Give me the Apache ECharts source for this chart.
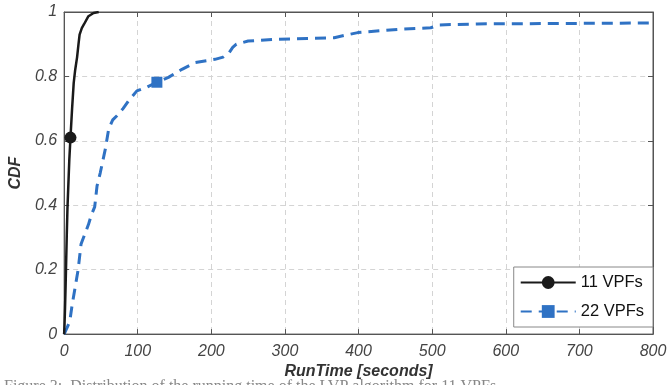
<!DOCTYPE html>
<html>
<head>
<meta charset="utf-8">
<script src="https://cdn.jsdelivr.net/npm/echarts@6/dist/echarts.min.js"></script>
<style>html,body{margin:0;padding:0;background:#fff;}#c{width:672px;height:385px;}</style>
</head>
<body>
<div id="c"></div>
<script>
// Data
const xTicks = [0, 100, 200, 300, 400, 500, 600, 700, 800];
const yTicks = [0, 0.2, 0.4, 0.6, 0.8, 1];
const vpf11X = [0, 0.5, 1.2, 2, 2.8, 3.6, 4.5, 5.5, 7, 8.6, 10.8, 13, 15, 17.6, 19.5, 21, 24, 27, 33, 40, 47];
const vpf11Y = [0, 0.03, 0.08, 0.15, 0.23, 0.31, 0.39, 0.45, 0.54, 0.61, 0.70, 0.78, 0.82, 0.86, 0.90, 0.93, 0.95, 0.962, 0.987, 0.997, 1];
const vpf11Mark = 9;
const vpf22X = [0, 4, 7.7, 10.8, 15.3, 19, 23, 28, 33, 37, 41.5, 44.7, 49, 56, 60.5, 66, 71.7, 80, 87.5, 98.8, 112, 126, 141.7, 160, 177.8, 191, 204.8, 216, 224, 229, 234, 250, 286, 330, 367, 380, 399, 453, 498, 510, 561, 650, 800];
const vpf22Y = [0, 0.02, 0.04, 0.09, 0.15, 0.20, 0.28, 0.31, 0.34, 0.37, 0.395, 0.46, 0.50, 0.575, 0.637, 0.665, 0.678, 0.70, 0.724, 0.755, 0.766, 0.782, 0.797, 0.822, 0.843, 0.848, 0.853, 0.86, 0.873, 0.89, 0.900, 0.910, 0.915, 0.918, 0.92, 0.927, 0.936, 0.946, 0.951, 0.96, 0.963, 0.964, 0.966];
const vpf22Mark = 21;
const seriesNames = ['11 VPFs', '22 VPFs'];
const xName = 'RunTime [seconds]';
const yName = 'CDF';
const caption = 'Figure 3:  Distribution of the running time of the LVP algorithm for 11 VPFs';

function build(xs, ys, mark, sym, size) {
  return xs.map((x, i) => ({ value: [x, ys[i]], symbol: i === mark ? sym : 'none', symbolSize: size }));
}

const chart = echarts.init(document.getElementById('c'), null, { renderer: 'canvas' });
const labelStyle = { color: '#444', fontSize: 16, fontStyle: 'italic', fontFamily: 'Liberation Sans, Arial, sans-serif' };
const nameStyle = { color: '#333', fontSize: 16, fontStyle: 'italic', fontWeight: 'bold', fontFamily: 'Liberation Sans, Arial, sans-serif' };
const axisLine = { show: true, onZero: false, lineStyle: { color: '#555', width: 1 } };
const tick = { show: true, inside: true, length: 5, lineStyle: { color: '#555' } };
const split = { show: true, lineStyle: { color: '#d4d4d4', type: [5, 4], width: 1 } };
chart.setOption({
  animation: false,
  backgroundColor: '#fff',
  grid: { left: 62, right: 19, top: 12, bottom: 49, containLabel: false, show: true, borderColor: '#555', borderWidth: 1 },
  xAxis: [{
    type: 'value', min: 0, max: 800, interval: 100,
    name: xName, nameLocation: 'middle', nameGap: 20, nameTextStyle: nameStyle,
    axisLine: axisLine, axisTick: tick,
    axisLabel: Object.assign({ margin: 9, formatter: v => xTicks.includes(v) ? String(v) : '' }, labelStyle),
    splitLine: split
  }, {
    type: 'value', min: 0, max: 800, interval: 100, position: 'top',
    axisLine: axisLine, axisTick: tick,
    axisLabel: { show: false }, splitLine: { show: false }
  }],
  yAxis: [{
    type: 'value', min: 0, max: 1, interval: 0.2,
    name: yName, nameLocation: 'middle', nameGap: 37, nameTextStyle: nameStyle,
    axisLine: axisLine, axisTick: tick,
    axisLabel: Object.assign({ margin: 7, formatter: v => { const t = yTicks.find(k => Math.abs(k - v) < 1e-9); return t === undefined ? '' : String(t); } }, labelStyle),
    splitLine: split
  }, {
    type: 'value', min: 0, max: 1, interval: 0.2, position: 'right',
    axisLine: axisLine, axisTick: tick,
    axisLabel: { show: false }, splitLine: { show: false }
  }],
  legend: {
    orient: 'vertical', right: 19, bottom: 58,
    data: seriesNames,
    itemWidth: 55, itemHeight: 16, itemGap: 12,
    padding: [7, 9, 7, 6],
    backgroundColor: '#fff', borderColor: '#888', borderWidth: 1, borderRadius: 0,
    textStyle: { color: '#111', fontSize: 16.5, fontFamily: 'Liberation Sans, Arial, sans-serif' }
  },
  series: [{
    name: seriesNames[0], type: 'line',
    data: build(vpf11X, vpf11Y, vpf11Mark, 'circle', 12),
    symbol: 'circle', symbolSize: 12, showAllSymbol: true,
    itemStyle: { color: '#1a1a1a' },
    lineStyle: { color: '#1a1a1a', width: 2.5 },
    z: 3
  }, {
    name: seriesNames[1], type: 'line',
    data: build(vpf22X, vpf22Y, vpf22Mark, 'rect', 11),
    symbol: 'rect', symbolSize: 11, showAllSymbol: true,
    itemStyle: { color: '#2f72c4' },
    lineStyle: { color: '#2f72c4', width: 3, type: [11, 7] },
    z: 2
  }],
  graphic: [{
    type: 'text', left: 4, top: 379,
    style: { text: caption, fill: '#888', font: '16px "Liberation Serif", "Times New Roman", serif' }
  }]
});
</script>
</body>
</html>
